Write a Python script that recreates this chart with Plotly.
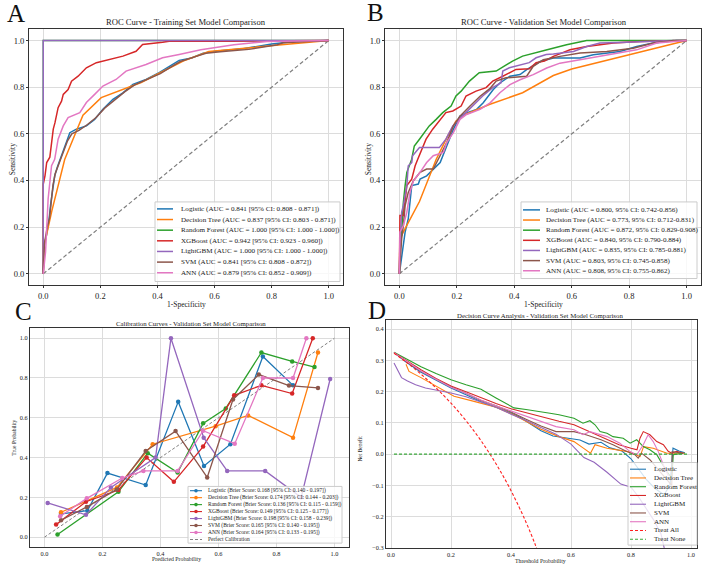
import plotly.graph_objects as go

W, H = 708, 567
SERIF = "Liberation Serif"

MODELS = ["Logistic", "Decision Tree", "Random Forest", "XGBoost", "LightGBM", "SVM", "ANN"]
COLORS = ["#1f77b4", "#ff7f0e", "#2ca02c", "#d62728", "#9467bd", "#8c564b", "#e377c2"]

# ---------------- Panel A: ROC, training set ----------------
tr_log_fpr = [0, 0.003, 0.012, 0.02, 0.026, 0.032, 0.04, 0.05, 0.064, 0.081, 0.093, 0.116, 0.151, 0.18, 0.209, 0.244, 0.279, 0.314, 0.36, 0.406, 0.441, 0.476, 0.52, 0.56, 0.61, 0.70, 0.80, 0.88, 1.0]
tr_log_tpr = [0, 0.12, 0.17, 0.23, 0.30, 0.36, 0.42, 0.46, 0.506, 0.563, 0.605, 0.62, 0.634, 0.662, 0.705, 0.748, 0.776, 0.812, 0.833, 0.862, 0.89, 0.915, 0.925, 0.946, 0.955, 0.965, 0.985, 0.996, 1.0]
tr_dt_fpr = [0, 0.003, 0.03, 0.075, 0.139, 0.203, 0.343, 0.49, 0.58, 0.78, 1.0]
tr_dt_tpr = [0, 0.12, 0.27, 0.49, 0.68, 0.755, 0.82, 0.912, 0.953, 0.975, 1.0]
tr_rf_fpr = [0, 0, 1.0]
tr_rf_tpr = [0, 1.0, 1.0]
tr_xgb_fpr = [0, 0, 0.006, 0.012, 0.023, 0.03, 0.035, 0.041, 0.052, 0.064, 0.07, 0.087, 0.099, 0.122, 0.151, 0.186, 0.232, 0.279, 0.325, 0.348, 0.418, 0.441, 0.66, 1.0]
tr_xgb_tpr = [0, 0.385, 0.42, 0.477, 0.5, 0.59, 0.62, 0.648, 0.712, 0.74, 0.769, 0.79, 0.826, 0.847, 0.883, 0.905, 0.919, 0.933, 0.954, 0.983, 0.993, 0.997, 0.997, 1.0]
tr_lgbm_fpr = [0, 0, 1.0]
tr_lgbm_tpr = [0, 1.0, 1.0]
tr_svm_fpr = [0, 0.004, 0.014, 0.022, 0.028, 0.034, 0.042, 0.055, 0.07, 0.085, 0.1, 0.125, 0.155, 0.185, 0.215, 0.25, 0.285, 0.32, 0.365, 0.41, 0.445, 0.48, 0.53, 0.57, 0.62, 0.72, 0.82, 0.84, 1.0]
tr_svm_tpr = [0, 0.13, 0.2, 0.24, 0.31, 0.38, 0.43, 0.47, 0.52, 0.57, 0.6, 0.615, 0.64, 0.67, 0.71, 0.745, 0.78, 0.81, 0.835, 0.858, 0.885, 0.91, 0.93, 0.945, 0.952, 0.962, 0.982, 0.99, 1.0]
tr_ann_fpr = [0, 0.008, 0.017, 0.029, 0.04, 0.052, 0.07, 0.087, 0.128, 0.151, 0.18, 0.209, 0.255, 0.29, 0.36, 0.418, 0.476, 0.552, 0.668, 0.784, 1.0]
tr_ann_tpr = [0, 0.094, 0.321, 0.463, 0.491, 0.577, 0.634, 0.67, 0.691, 0.734, 0.769, 0.805, 0.833, 0.869, 0.897, 0.926, 0.94, 0.96, 0.982, 0.996, 1.0]
tr_labels = [
    "Logistic (AUC = 0.841 [95% CI: 0.808 - 0.871])",
    "Decision Tree (AUC = 0.837 [95% CI: 0.803 - 0.871])",
    "Random Forest (AUC = 1.000 [95% CI: 1.000 - 1.000])",
    "XGBoost (AUC = 0.942 [95% CI: 0.923 - 0.960])",
    "LightGBM (AUC = 1.000 [95% CI: 1.000 - 1.000])",
    "SVM (AUC = 0.841 [95% CI: 0.808 - 0.872])",
    "ANN (AUC = 0.879 [95% CI: 0.852 - 0.909])",
]

# ---------------- Panel B: ROC, validation set ----------------
va_log_fpr = [0, 0.008, 0.014, 0.02, 0.031, 0.037, 0.043, 0.066, 0.072, 0.095, 0.118, 0.142, 0.165, 0.188, 0.211, 0.234, 0.269, 0.292, 0.327, 0.35, 0.385, 0.42, 0.443, 0.49, 0.536, 0.629, 0.675, 0.768, 0.826, 0.884, 0.965, 1.0]
va_log_tpr = [0, 0.065, 0.122, 0.179, 0.236, 0.321, 0.378, 0.385, 0.406, 0.42, 0.449, 0.477, 0.548, 0.619, 0.676, 0.69, 0.705, 0.733, 0.79, 0.818, 0.847, 0.854, 0.875, 0.91, 0.925, 0.925, 0.939, 0.953, 0.974, 0.989, 1.0, 1.0]
va_dt_fpr = [0, 0.002, 0.014, 0.07, 0.128, 0.168, 0.197, 0.232, 0.313, 0.429, 0.536, 0.6, 1.0]
va_dt_tpr = [0, 0.15, 0.18, 0.31, 0.49, 0.59, 0.655, 0.684, 0.726, 0.776, 0.85, 0.878, 1.0]
va_rf_fpr = [0, 0.002, 0.008, 0.014, 0.02, 0.026, 0.043, 0.052, 0.07, 0.087, 0.104, 0.128, 0.151, 0.18, 0.197, 0.215, 0.244, 0.278, 0.337, 0.365, 0.394, 0.429, 0.476, 0.511, 0.582, 0.652, 1.0]
va_rf_tpr = [0, 0.094, 0.179, 0.307, 0.378, 0.435, 0.491, 0.548, 0.577, 0.605, 0.634, 0.662, 0.691, 0.719, 0.762, 0.783, 0.826, 0.862, 0.869, 0.89, 0.912, 0.933, 0.947, 0.959, 0.982, 1.0, 1.0]
va_xgb_fpr = [0, 0.002, 0.002, 0.014, 0.02, 0.026, 0.043, 0.055, 0.064, 0.093, 0.116, 0.139, 0.162, 0.186, 0.215, 0.232, 0.267, 0.302, 0.325, 0.36, 0.406, 0.452, 0.476, 0.505, 0.536, 0.594, 0.652, 0.745, 0.838, 1.0]
va_xgb_tpr = [0, 0.122, 0.25, 0.25, 0.321, 0.378, 0.406, 0.463, 0.491, 0.577, 0.62, 0.655, 0.691, 0.698, 0.719, 0.762, 0.783, 0.798, 0.826, 0.847, 0.876, 0.879, 0.905, 0.912, 0.932, 0.96, 0.974, 0.989, 0.996, 1.0]
va_lgbm_fpr = [0, 0.002, 0.008, 0.014, 0.026, 0.031, 0.043, 0.046, 0.07, 0.139, 0.162, 0.186, 0.22, 0.255, 0.29, 0.325, 0.354, 0.36, 0.383, 0.452, 0.476, 0.511, 0.536, 0.606, 0.652, 0.698, 0.768, 0.954, 1.0]
va_lgbm_tpr = [0, 0.122, 0.264, 0.293, 0.378, 0.463, 0.477, 0.506, 0.541, 0.541, 0.577, 0.634, 0.677, 0.719, 0.762, 0.798, 0.819, 0.869, 0.883, 0.905, 0.926, 0.94, 0.942, 0.953, 0.974, 0.989, 0.991, 1.0, 1.0]
va_svm_fpr = [0, 0.008, 0.014, 0.02, 0.031, 0.049, 0.072, 0.095, 0.118, 0.142, 0.165, 0.188, 0.211, 0.246, 0.281, 0.316, 0.337, 0.371, 0.397, 0.443, 0.466, 0.501, 0.559, 0.629, 0.722, 0.814, 0.884, 0.954, 1.0]
va_svm_tpr = [0, 0.151, 0.207, 0.293, 0.349, 0.399, 0.435, 0.449, 0.449, 0.506, 0.563, 0.634, 0.676, 0.719, 0.761, 0.795, 0.826, 0.84, 0.842, 0.847, 0.889, 0.918, 0.932, 0.946, 0.953, 0.967, 0.989, 1.0, 1.0]
va_ann_fpr = [0, 0.002, 0.014, 0.026, 0.037, 0.049, 0.072, 0.095, 0.118, 0.153, 0.165, 0.188, 0.211, 0.234, 0.281, 0.316, 0.35, 0.385, 0.42, 0.466, 0.513, 0.559, 0.629, 0.698, 0.768, 0.826, 0.896, 0.954, 1.0]
va_ann_tpr = [0, 0.179, 0.207, 0.264, 0.349, 0.399, 0.435, 0.477, 0.506, 0.52, 0.563, 0.605, 0.662, 0.683, 0.705, 0.733, 0.776, 0.811, 0.832, 0.854, 0.882, 0.903, 0.918, 0.932, 0.946, 0.96, 0.989, 0.996, 1.0]
va_labels = [
    "Logistic (AUC = 0.800, 95% CI: 0.742-0.856)",
    "Decision Tree (AUC = 0.773, 95% CI: 0.712-0.831)",
    "Random Forest (AUC = 0.872, 95% CI: 0.829-0.908)",
    "XGBoost (AUC = 0.840, 95% CI: 0.790-0.884)",
    "LightGBM (AUC = 0.835, 95% CI: 0.785-0.881)",
    "SVM (AUC = 0.803, 95% CI: 0.745-0.858)",
    "ANN (AUC = 0.808, 95% CI: 0.755-0.862)",
]

# ---------------- Panel C: calibration, validation set ----------------
cal_log_x = [0.057, 0.148, 0.217, 0.349, 0.461, 0.55, 0.641, 0.753, 0.857]
cal_log_y = [0.117, 0.133, 0.322, 0.262, 0.68, 0.358, 0.467, 0.908, 0.763]
cal_dt_x = [0.057, 0.25, 0.373, 0.59, 0.702, 0.857, 0.943]
cal_dt_y = [0.125, 0.25, 0.467, 0.558, 0.612, 0.5, 0.928]
cal_rf_x = [0.045, 0.255, 0.356, 0.459, 0.547, 0.625, 0.748, 0.854, 0.931]
cal_rf_y = [0.013, 0.228, 0.422, 0.325, 0.572, 0.647, 0.928, 0.883, 0.855]
cal_xgb_x = [0.04, 0.143, 0.255, 0.352, 0.446, 0.547, 0.654, 0.748, 0.854, 0.925]
cal_xgb_y = [0.063, 0.178, 0.237, 0.4, 0.278, 0.455, 0.713, 0.763, 0.722, 1.0]
cal_lgbm_x = [0.011, 0.143, 0.229, 0.383, 0.436, 0.549, 0.63, 0.761, 0.885, 0.985]
cal_lgbm_y = [0.172, 0.112, 0.25, 0.4, 1.0, 0.5, 0.333, 0.333, 0.2, 0.795]
cal_svm_x = [0.057, 0.146, 0.249, 0.349, 0.452, 0.561, 0.65, 0.739, 0.843, 0.943]
cal_svm_y = [0.085, 0.152, 0.24, 0.433, 0.533, 0.3, 0.692, 0.817, 0.762, 0.75]
cal_ann_x = [0.054, 0.146, 0.268, 0.341, 0.459, 0.547, 0.656, 0.753, 0.857, 0.903]
cal_ann_y = [0.105, 0.195, 0.297, 0.333, 0.333, 0.535, 0.47, 0.8, 0.8, 1.0]
cal_labels = [
    "Logistic (Brier Score: 0.168 [95% CI: 0.140 - 0.197])",
    "Decision Tree (Brier Score: 0.174 [95% CI: 0.144 - 0.203])",
    "Random Forest (Brier Score: 0.136 [95% CI: 0.115 - 0.159])",
    "XGBoost (Brier Score: 0.149 [95% CI: 0.125 - 0.177])",
    "LightGBM (Brier Score: 0.198 [95% CI: 0.158 - 0.239])",
    "SVM (Brier Score: 0.165 [95% CI: 0.140 - 0.195])",
    "ANN (Brier Score: 0.164 [95% CI: 0.133 - 0.195])",
    "Perfect Calibration",
]

# ---------------- Panel D: decision curves, validation set ----------------
dca_log_t = [0.01, 0.05, 0.1, 0.15, 0.2, 0.25, 0.3, 0.35, 0.4, 0.43, 0.46, 0.5, 0.54, 0.59, 0.63, 0.66, 0.7, 0.73, 0.77, 0.8, 0.82, 0.85, 0.88, 0.91, 0.93, 0.94, 0.96, 0.98]
dca_log_y = [0.325, 0.295, 0.262, 0.236, 0.212, 0.19, 0.168, 0.15, 0.132, 0.118, 0.1, 0.075, 0.058, 0.052, 0.045, 0.032, 0.038, 0.02, 0.01, -0.015, -0.04, -0.08, -0.11, -0.13, -0.1, 0.019, 0.01, 0.004]
dca_dt_t = [0.05, 0.06, 0.1, 0.15, 0.21, 0.28, 0.35, 0.41, 0.5, 0.56, 0.61, 0.64, 0.665, 0.68, 0.72, 0.79, 0.83, 0.842, 0.874, 0.92, 0.98]
dca_dt_y = [0.288, 0.265, 0.245, 0.218, 0.185, 0.168, 0.15, 0.125, 0.08, 0.056, 0.04, 0.02, 0.003, 0.03, 0.019, 0.008, -0.008, 0.024, 0.019, 0.003, 0.003]
dca_rf_t = [0.01, 0.05, 0.1, 0.15, 0.2, 0.25, 0.3, 0.35, 0.41, 0.45, 0.5, 0.53, 0.56, 0.61, 0.64, 0.663, 0.68, 0.697, 0.72, 0.74, 0.774, 0.797, 0.819, 0.841, 0.863, 0.886, 0.902, 0.919, 0.936, 0.941, 0.974]
dca_rf_y = [0.326, 0.305, 0.28, 0.258, 0.238, 0.222, 0.208, 0.18, 0.148, 0.143, 0.137, 0.131, 0.126, 0.115, 0.099, 0.107, 0.094, 0.072, 0.067, 0.056, 0.051, 0.035, 0.046, 0.024, 0.014, -0.002, -0.028, -0.055, -0.077, -0.002, 0.003]
dca_xgb_t = [0.01, 0.05, 0.1, 0.15, 0.2, 0.25, 0.3, 0.35, 0.4, 0.45, 0.5, 0.56, 0.61, 0.66, 0.72, 0.76, 0.8, 0.82, 0.83, 0.841, 0.863, 0.886, 0.908, 0.924, 0.936, 0.952, 0.974]
dca_xgb_y = [0.325, 0.3, 0.27, 0.242, 0.218, 0.2, 0.18, 0.162, 0.145, 0.132, 0.121, 0.105, 0.094, 0.072, 0.046, 0.03, 0.019, 0.014, 0.051, 0.072, 0.062, 0.04, 0.03, 0.009, 0.003, 0.009, 0.003]
dca_lgbm_t = [0.01, 0.035, 0.055, 0.082, 0.115, 0.154, 0.2, 0.25, 0.3, 0.35, 0.4, 0.45, 0.5, 0.55, 0.6, 0.643, 0.677, 0.72, 0.766, 0.8, 0.826, 0.854, 0.877, 0.9, 0.91, 0.925]
dca_lgbm_y = [0.292, 0.245, 0.234, 0.222, 0.212, 0.205, 0.196, 0.184, 0.168, 0.15, 0.128, 0.108, 0.085, 0.064, 0.032, -0.011, -0.026, -0.058, -0.096, -0.106, -0.138, -0.181, -0.213, -0.256, -0.298, -0.34]
dca_svm_t = [0.01, 0.05, 0.1, 0.15, 0.2, 0.25, 0.3, 0.35, 0.4, 0.45, 0.5, 0.55, 0.61, 0.65, 0.7, 0.74, 0.786, 0.813, 0.824, 0.835, 0.863, 0.9, 0.936, 0.937, 0.974]
dca_svm_y = [0.325, 0.297, 0.265, 0.24, 0.215, 0.195, 0.172, 0.155, 0.135, 0.112, 0.09, 0.072, 0.072, 0.062, 0.046, 0.03, 0.008, -0.002, -0.013, 0.003, -0.018, -0.06, -0.1, 0.008, 0.003]
dca_ann_t = [0.01, 0.05, 0.1, 0.15, 0.2, 0.25, 0.3, 0.35, 0.4, 0.45, 0.5, 0.55, 0.61, 0.64, 0.663, 0.72, 0.763, 0.797, 0.819, 0.841, 0.857, 0.874, 0.891, 0.908, 0.925]
dca_ann_y = [0.325, 0.298, 0.266, 0.24, 0.214, 0.195, 0.173, 0.155, 0.138, 0.12, 0.105, 0.088, 0.078, 0.062, 0.072, 0.056, 0.035, 0.008, -0.002, 0.03, 0.062, 0.04, 0.008, -0.035, -0.07]
dca_all_t = [0.01, 0.05, 0.1, 0.15, 0.2, 0.25, 0.3, 0.35, 0.4, 0.45, 0.48, 0.5]
dca_all_y = [0.323, 0.295, 0.256, 0.212, 0.163, 0.107, 0.043, -0.031, -0.117, -0.218, -0.288, -0.34]
dca_none_t = [0.01, 0.99]
dca_none_y = [0.0, 0.0]
dca_labels = MODELS + ["Treat All", "Treat None"]

# ---------------- figure ----------------
def px_x(p):
    return p / W


def px_y(p):
    return 1 - p / H


fig = go.Figure()

GRID = "#dcdcdc"
FRAME = "#333333"


def axis_common(rng, dtick, size, fmt, tlen):
    return dict(range=rng, dtick=dtick, tick0=0, tickformat=fmt, showgrid=True, gridcolor=GRID,
                gridwidth=1, zeroline=False, showline=True, mirror=True, linecolor=FRAME, linewidth=1,
                ticks="outside" if tlen > 0 else "", ticklen=max(tlen, 1), tickcolor=FRAME,
                tickfont=dict(family=SERIF, size=size, color="#222"))


layout_axes = {
    "xaxis": dict(domain=[29 / W, 343 / W], anchor="y", **axis_common([-0.05, 1.05], 0.2, 8.5, ".1f", 2)),
    "yaxis": dict(domain=[px_y(287), px_y(29)], anchor="x", **axis_common([-0.05, 1.05], 0.2, 8.5, ".1f", 2)),
    "xaxis2": dict(domain=[385 / W, 701 / W], anchor="y2", **axis_common([-0.05, 1.05], 0.2, 8.5, ".1f", 2)),
    "yaxis2": dict(domain=[px_y(287), px_y(29)], anchor="x2", **axis_common([-0.05, 1.05], 0.2, 8.5, ".1f", 2)),
    "xaxis3": dict(domain=[30 / W, 349 / W], anchor="y3", **axis_common([-0.05, 1.05], 0.2, 6.3, ".1f", 0)),
    "yaxis3": dict(domain=[px_y(550), px_y(330)], anchor="x3", **axis_common([-0.05, 1.05], 0.2, 6.3, ".1f", 0)),
    "xaxis4": dict(domain=[386 / W, 697 / W], anchor="y4", **axis_common([-0.0167, 1.02], 0.2, 6.3, ".1f", 0)),
    "yaxis4": dict(domain=[px_y(551), px_y(322)], anchor="x4", **axis_common([-0.301, 0.4286], 0.1, 6.3, ".1f", 0)),
}

# Panel A & B traces
diag = [0, 1]
tr_sets = [(tr_log_fpr, tr_log_tpr), (tr_dt_fpr, tr_dt_tpr), (tr_rf_fpr, tr_rf_tpr), (tr_xgb_fpr, tr_xgb_tpr),
           (tr_lgbm_fpr, tr_lgbm_tpr), (tr_svm_fpr, tr_svm_tpr), (tr_ann_fpr, tr_ann_tpr)]
va_sets = [(va_log_fpr, va_log_tpr), (va_dt_fpr, va_dt_tpr), (va_rf_fpr, va_rf_tpr), (va_xgb_fpr, va_xgb_tpr),
           (va_lgbm_fpr, va_lgbm_tpr), (va_svm_fpr, va_svm_tpr), (va_ann_fpr, va_ann_tpr)]
for (xa, ya), sets in (("x", "y"), tr_sets), (("x2", "y2"), va_sets):
    fig.add_trace(go.Scatter(x=diag, y=diag, mode="lines", xaxis=xa, yaxis=ya, showlegend=False,
                             line=dict(color="#7f7f7f", width=1.2, dash="4px,2.5px"), hoverinfo="skip"))
    for name, color, (fx, ty) in zip(MODELS, COLORS, sets):
        fig.add_trace(go.Scatter(x=fx, y=ty, mode="lines", name=name, xaxis=xa, yaxis=ya, showlegend=False,
                                 line=dict(color=color, width=1.5)))

# Panel C
cal_sets = [(cal_log_x, cal_log_y), (cal_dt_x, cal_dt_y), (cal_rf_x, cal_rf_y), (cal_xgb_x, cal_xgb_y),
            (cal_lgbm_x, cal_lgbm_y), (cal_svm_x, cal_svm_y), (cal_ann_x, cal_ann_y)]
fig.add_trace(go.Scatter(x=diag, y=diag, mode="lines", xaxis="x3", yaxis="y3", showlegend=False,
                         name="Perfect Calibration", line=dict(color="#808080", width=1, dash="3px,2px")))
for name, color, (cx, cy) in zip(MODELS, COLORS, cal_sets):
    fig.add_trace(go.Scatter(x=cx, y=cy, mode="lines+markers", name=name, xaxis="x3", yaxis="y3",
                             showlegend=False, line=dict(color=color, width=1.3),
                             marker=dict(color=color, size=4.5)))

# Panel D
dca_sets = [(dca_log_t, dca_log_y), (dca_dt_t, dca_dt_y), (dca_rf_t, dca_rf_y), (dca_xgb_t, dca_xgb_y),
            (dca_lgbm_t, dca_lgbm_y), (dca_svm_t, dca_svm_y), (dca_ann_t, dca_ann_y)]
for name, color, (tx, ny) in zip(MODELS, COLORS, dca_sets):
    fig.add_trace(go.Scatter(x=tx, y=ny, mode="lines", name=name, xaxis="x4", yaxis="y4", showlegend=False,
                             line=dict(color=color, width=1.1)))
fig.add_trace(go.Scatter(x=dca_all_t, y=dca_all_y, mode="lines", name="Treat All", xaxis="x4", yaxis="y4",
                         showlegend=False, line=dict(color="#ff2020", width=1.1, dash="3px,2px", shape="spline")))
fig.add_trace(go.Scatter(x=dca_none_t, y=dca_none_y, mode="lines", name="Treat None", xaxis="x4", yaxis="y4",
                         showlegend=False, line=dict(color="#3aa83a", width=1.1, dash="3px,2px")))

shapes = []
annotations = []


def legend_box(x0, y0, x1, y1):
    shapes.append(dict(type="rect", xref="paper", yref="paper", x0=px_x(x0), x1=px_x(x1), y0=px_y(y1),
                       y1=px_y(y0), line=dict(color="#cccccc", width=1), fillcolor="rgba(255,255,255,0.8)",
                       layer="above"))


def legend_rows(labels, colors, dashes, markers, sx0, sx1, tx, ry0, dy, fsize, lw):
    for i, (lab, col, dsh, mk) in enumerate(zip(labels, colors, dashes, markers)):
        yy = ry0 + i * dy
        shapes.append(dict(type="line", xref="paper", yref="paper", x0=px_x(sx0), x1=px_x(sx1),
                           y0=px_y(yy), y1=px_y(yy), line=dict(color=col, width=lw, dash=dsh), layer="above"))
        if mk:
            cxm = (sx0 + sx1) / 2
            r = 1.8
            shapes.append(dict(type="circle", xref="paper", yref="paper", x0=px_x(cxm - r), x1=px_x(cxm + r),
                               y0=px_y(yy + r), y1=px_y(yy - r), fillcolor=col, line=dict(color=col, width=0),
                               layer="above"))
        annotations.append(dict(text=lab, xref="paper", yref="paper", x=px_x(tx), y=px_y(yy), xanchor="left",
                                yanchor="middle", showarrow=False,
                                font=dict(family=SERIF, size=fsize, color="#222")))


# Legend A
legend_box(155, 203, 340, 283)
legend_rows(tr_labels, COLORS, ["solid"] * 7, [False] * 7, 157, 173, 179, 210, 10.7, 7.1, 1.5)
# Legend B
legend_box(521, 203, 697, 280)
legend_rows(va_labels, COLORS, ["solid"] * 7, [False] * 7, 523, 540, 544, 211, 10.2, 7.1, 1.5)
# Legend C
legend_box(188, 489, 342, 546)
legend_rows(cal_labels, COLORS + ["#808080"], ["solid"] * 7 + ["3px,2px"], [True] * 7 + [False],
            190, 202, 206, 493.3, 7.0, 5.5, 1.1)
# Legend D
legend_box(628, 465, 697, 548)
legend_rows(dca_labels, COLORS + ["#ff2020", "#3aa83a"], ["solid"] * 7 + ["3px,2px"] * 2, [False] * 9,
            630, 646, 652, 471.7, 8.8, 7.0, 1.1)

# Titles, panel letters, axis titles
texts = [
    ("ROC Curve - Training Set Model Comparison", 185.5, 22, 8.6, 0),
    ("ROC Curve - Validation Set Model Comparison", 544, 22, 8.6, 0),
    ("Calibration Curves - Validation Set Model Comparison", 190.5, 325, 6.8, 0),
    ("Decision Curve Analysis - Validation Set Model Comparison", 540, 317, 6.8, 0),
    ("1-Specificity", 186, 306, 7.5, 0),
    ("1-Specificity", 543, 306, 7.5, 0),
    ("Sensitivity", 12, 160, 7.5, -90),
    ("Sensitivity", 368, 160, 7.5, -90),
    ("Predicted Probability", 176, 562, 5.8, 0),
    ("True Probability", 14, 440, 5.5, -90),
    ("Threshold Probability", 540, 564, 5.8, 0),
    ("Net Benefit", 360, 451, 5.5, -90),
]
for t, x, y, s, ang in texts:
    annotations.append(dict(text=t, xref="paper", yref="paper", x=px_x(x), y=px_y(y), xanchor="center",
                            yanchor="middle", showarrow=False, textangle=ang,
                            font=dict(family=SERIF, size=s, color="#222")))

for letter, x, y in (("A", 16, 14), ("B", 375, 13), ("C", 23, 313), ("D", 377, 312)):
    annotations.append(dict(text=letter, xref="paper", yref="paper", x=px_x(x), y=px_y(y), xanchor="center",
                            yanchor="middle", showarrow=False, font=dict(family=SERIF, size=25, color="#111")))

fig.update_layout(width=W, height=H, margin=dict(l=0, r=0, t=0, b=0), paper_bgcolor="white",
                  plot_bgcolor="white", showlegend=False, shapes=shapes, annotations=annotations,
                  font=dict(family=SERIF), **layout_axes)

fig.write_html("out.html")
